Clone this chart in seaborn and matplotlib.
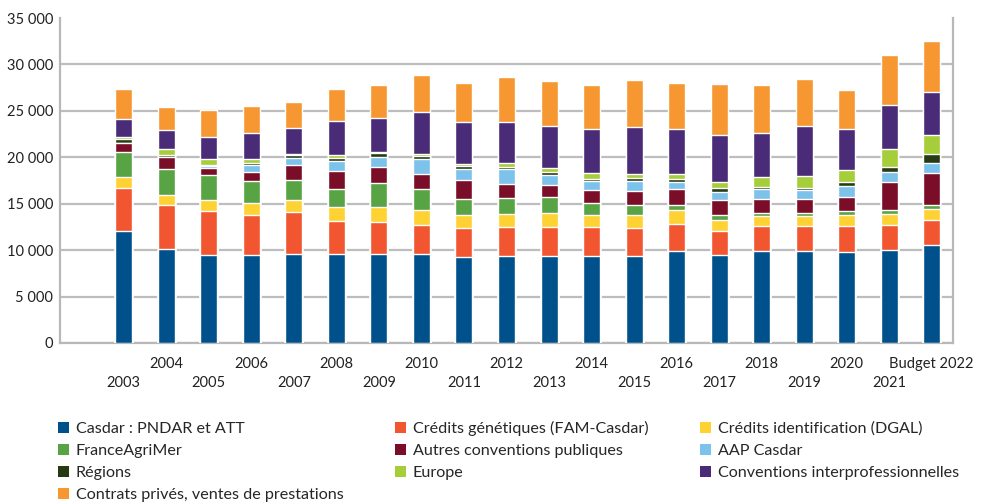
import numpy as np
import pandas as pd
import matplotlib
matplotlib.use("Agg")
import matplotlib.pyplot as plt
from matplotlib.patches import Patch
from matplotlib.ticker import FuncFormatter
import seaborn as sns

# =============================
# DATA (k euros)
# =============================
years = ["2003", "2004", "2005", "2006", "2007", "2008", "2009", "2010", "2011", "2012",
         "2013", "2014", "2015", "2016", "2017", "2018", "2019", "2020", "2021", "Budget 2022"]

casdar = [12100, 10150, 9500, 9500, 9600, 9600, 9600, 9600, 9300, 9400,
          9400, 9400, 9400, 9950, 9500, 9950, 9950, 9850, 10050, 10550]
genetique = [4600, 4700, 4750, 4300, 4500, 3550, 3450, 3100, 3100, 3100,
             3100, 3100, 3000, 2900, 2600, 2650, 2650, 2750, 2650, 2700]
identification = [1200, 1100, 1150, 1300, 1300, 1500, 1600, 1650, 1400, 1400,
                  1500, 1300, 1400, 1500, 1150, 1100, 1100, 1200, 1200, 1200]
franceagrimer = [2700, 2800, 2700, 2350, 2150, 1950, 2600, 2250, 1700, 1750,
                 1750, 1300, 1100, 550, 550, 300, 300, 450, 450, 400]
autres_conv = [900, 1250, 750, 950, 1600, 1950, 1700, 1600, 2050, 1500,
               1250, 1400, 1500, 1700, 1600, 1500, 1500, 1500, 3000, 3450]
aap_casdar = [0, 0, 200, 750, 750, 1050, 1100, 1600, 1200, 1600,
              1100, 950, 1050, 750, 850, 1100, 1000, 1150, 1050, 1100]
regions = [500, 250, 150, 250, 350, 350, 400, 350, 300, 200,
           300, 200, 350, 300, 450, 200, 200, 450, 550, 950]
europe = [200, 650, 600, 400, 100, 300, 100, 200, 250, 450,
          450, 650, 400, 550, 650, 1100, 1300, 1300, 1950, 2050]
interpro = [1900, 2050, 2400, 2800, 2800, 3650, 3700, 4500, 4500, 4400,
            4500, 4750, 5050, 4850, 5050, 4700, 5350, 4400, 4700, 4600]
contrats = [3250, 2450, 2900, 2900, 2800, 3450, 3550, 4000, 4200, 4800,
            4850, 4700, 5050, 4950, 5500, 5200, 5050, 4200, 5400, 5500]

labels = ["Casdar : PNDAR et ATT", "Crédits génétiques (FAM-Casdar)",
          "Crédits identification (DGAL)", "FranceAgriMer",
          "Autres conventions publiques", "AAP Casdar", "Régions", "Europe",
          "Conventions interprofessionnelles", "Contrats privés, ventes de prestations"]
colors = ["#00518B", "#F15631", "#FFD233", "#58A444", "#7A0E28",
          "#7CC2EA", "#263A14", "#A6CD3A", "#4A2B78", "#F79731"]

series = [casdar, genetique, identification, franceagrimer, autres_conv,
          aap_casdar, regions, europe, interpro, contrats]

df = pd.DataFrame(dict(zip(labels, series)))
df["annee"] = years
cum = df[labels].cumsum(axis=1)

# =============================
# STYLE
# =============================
sns.set_style("white")
plt.rcParams["font.family"] = ["Lato", "DejaVu Sans"]

fig = plt.figure(figsize=(9.85, 5.04), dpi=100)
ax = fig.add_axes([60 / 985, 1 - 343 / 504, 893 / 985, 325 / 504])

# stacked bars: draw cumulative totals from top layer down
for lab, col in reversed(list(zip(labels, colors))):
    sns.barplot(x=df["annee"], y=cum[lab], color=col, width=0.4,
                saturation=1, ax=ax, zorder=3)

ax.set_xlim(-1.5, 19.5)
ax.set_ylim(0, 35000)
ax.set_yticks(np.arange(0, 35001, 5000))
ax.yaxis.set_major_formatter(FuncFormatter(lambda v, p: f"{int(v):,}".replace(",", " ")))
ax.set_xlabel("")
ax.set_ylabel("")

ax.yaxis.grid(True, color="#BDBDBD", linewidth=1.6, zorder=0)
ax.get_ygridlines()[-1].set_visible(False)
ax.set_axisbelow(True)

for s in ["left", "right", "bottom"]:
    ax.spines[s].set_visible(True)
    ax.spines[s].set_color("#B8B8B8")
    ax.spines[s].set_linewidth(1.6)
ax.spines["top"].set_visible(False)

ax.tick_params(axis="both", length=0, labelsize=10.5, colors="#222222")
ax.tick_params(axis="y", pad=5)
for i, tick in enumerate(ax.xaxis.get_major_ticks()):
    tick.set_pad(24 if i % 2 == 0 else 10)

# legend in 3 columns
handles = [Patch(facecolor=c, edgecolor="none") for c in colors]
order = [0, 3, 6, 9, 1, 4, 7, 2, 5, 8]
fig.legend([handles[i] for i in order], [labels[i] for i in order],
           loc="upper left", bbox_to_anchor=(58 / 985, 1 - 421 / 504),
           ncol=3, frameon=False, fontsize=11.6, handlelength=0.7,
           handleheight=0.7, handletextpad=0.4, labelspacing=0.48,
           columnspacing=3.2, borderpad=0, borderaxespad=0)

plt.savefig("out.png", dpi=100)
